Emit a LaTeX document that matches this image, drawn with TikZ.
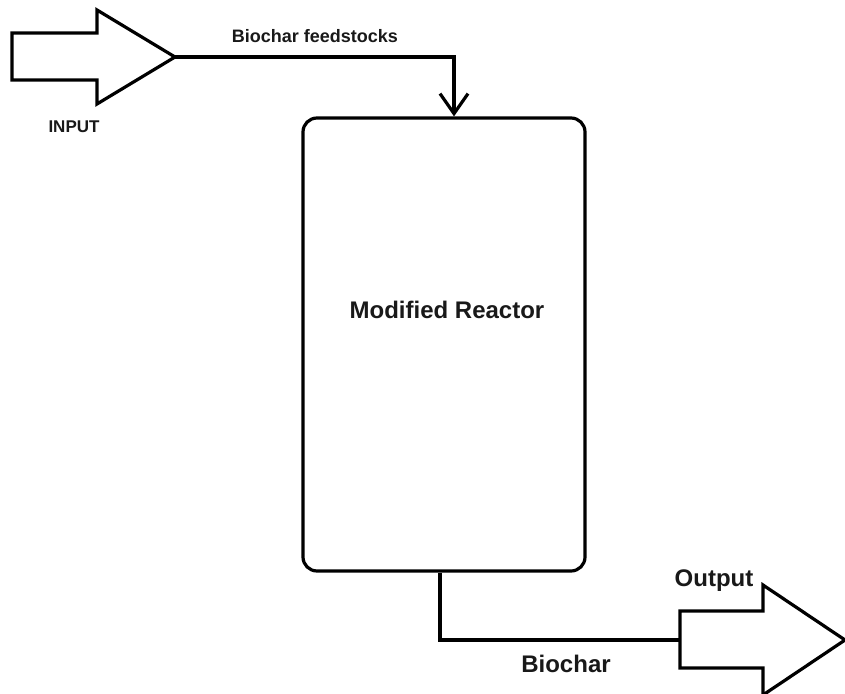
\documentclass[tikz,border=0pt]{standalone}
\usepackage{fontspec}
\setmainfont{Liberation Sans}
\usetikzlibrary{arrows.meta}

\begin{document}
\begin{tikzpicture}[x=1pt, y=-1pt, line width=3.2pt, line join=miter,
    reactor/.style={draw, rounded corners=14pt, minimum width=282pt, minimum height=453pt, inner sep=0pt},
    lbl/.style={inner sep=0pt, text=black!90}]
    %%%%% START %%%%%

    \clip (0, 0) rectangle (845, 693);
    \fill[white] (0, 0) rectangle (845, 693);

    % input arrow
    \draw (12, 33) -- (97, 33) -- (97, 10) -- (175, 57) -- (97, 104) -- (97, 80) -- (12, 80) -- cycle;
    \coordinate (inTip) at (175, 57);
    \node[lbl, font=\fontsize{17}{20}\selectfont\bfseries] (inputLabel) at (74, 127) {INPUT};

    % reactor
    \node[reactor] (reactor) at (444, 344.5) {};
    \node[lbl, font=\fontsize{24}{28}\selectfont\bfseries] (reactorLabel) at (447, 310) {Modified Reactor};

    % feed line
    \draw[-{Straight Barb[length=20pt, width=28pt]}] (inTip) -| ([xshift=10pt]reactor.north);
    \node[lbl, font=\fontsize{18}{21}\selectfont\bfseries] (feedLabel) at (315, 36) {Biochar feedstocks};

    % output line
    \coordinate (outTail) at (680, 640);
    \draw ([xshift=-4pt]reactor.south) |- (outTail);
    \node[lbl, font=\fontsize{24}{28}\selectfont\bfseries] (productLabel) at (566, 664) {Biochar};

    % output arrow
    \draw (680, 611) -- (763, 611) -- (763, 585) -- (845, 640) -- (763, 695) -- (763, 668) -- (680, 668) -- cycle;
    \node[lbl, font=\fontsize{24}{28}\selectfont\bfseries] (outputLabel) at (714, 581) {Output};

    %%%%% END %%%%%
\end{tikzpicture}
\end{document}
